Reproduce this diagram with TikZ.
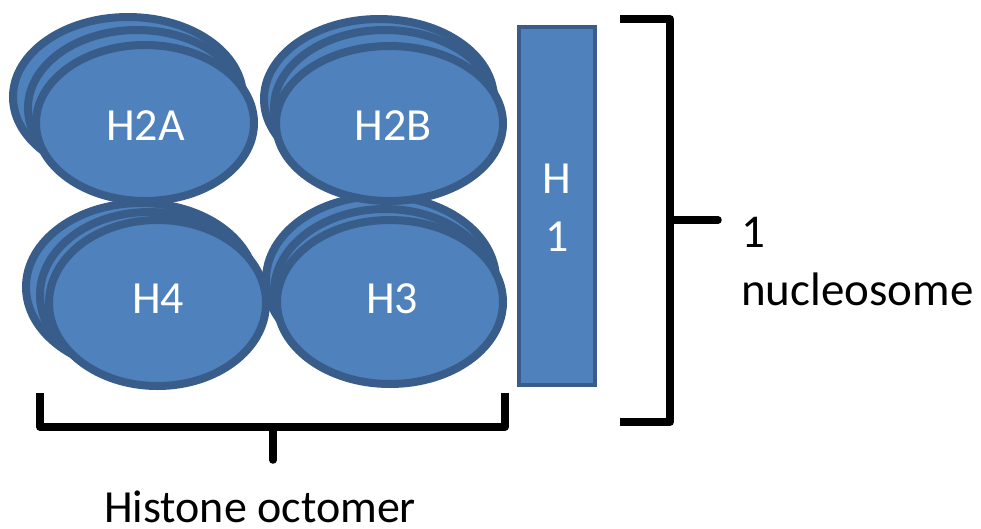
\documentclass[tikz,border=0pt]{standalone}
\usepackage{fontspec}
\setmainfont{Carlito}
\begin{document}
\begin{tikzpicture}[x=1pt,y=-1pt,
  blob/.style={fill=hfill,draw=hline,line width=8pt},
  lab/.style={text=white,anchor=base,inner sep=0pt,font=\fontsize{46}{55}\selectfont},
  blab/.style={text=black,anchor=base west,inner sep=0pt,font=\fontsize{47}{56}\selectfont},
  brk/.style={draw=black,line width=7.5pt,line join=round}]
\definecolor{hfill}{HTML}{4F81BD}
\definecolor{hline}{HTML}{385D8A}
\useasboundingbox (0,0) rectangle (981,528);
% H3 (bottom right)
\path[blob] (381,280) ellipse [x radius=115, y radius=84];
\path[blob] (385,292) ellipse [x radius=111, y radius=83];
\path[blob] (390,302) ellipse [x radius=113, y radius=82];
% H4 (bottom left)
\path[blob] (141,287) ellipse [x radius=115, y radius=84];
\path[blob] (149,295) ellipse [x radius=109, y radius=83];
\path[blob] (157.5,303) ellipse [x radius=108.5, y radius=83];
% H2B (top right)
\path[blob] (379,99) ellipse [x radius=115, y radius=80];
\path[blob] (385,108) ellipse [x radius=111, y radius=78];
\path[blob] (389.5,123.5) ellipse [x radius=113.5, y radius=77.5];
% H2A (top left)
\path[blob] (128,97) ellipse [x radius=115, y radius=80];
\path[blob] (137,108) ellipse [x radius=109, y radius=78];
\path[blob] (145,123) ellipse [x radius=109, y radius=78];
% labels
\node[lab] (h2a) at (145.5,140) {H2A};
\node[lab] (h2b) at (393,140) {H2B};
\node[lab] (h4) at (158,313) {H4};
\node[lab] (h3) at (392,313) {H3};
% H1
\node[fill=hfill,draw=hline,line width=3.5pt,minimum width=76pt,minimum height=358pt,inner sep=0pt] (h1) at (557,206) {};
\node[lab] (h1a) at (557,193) {H};
\node[lab] (h1b) at (557,251) {1};
% right bracket
\coordinate (rt) at (620,19);
\coordinate (rtc) at (670,19);
\coordinate (rbc) at (670,422);
\coordinate (rb) at (620,422);
\coordinate (rm) at (670,220);
\coordinate (rme) at (718,220);
\draw[brk] (rt) -- (rtc) -- (rbc) -- (rb);
\draw[brk,line cap=round] (rm) -- (rme);
\node[blab] (one) at (741,247) {1};
\node[blab] (nuc) at (741,305) {nucleosome};
% bottom bracket
\coordinate (bl) at (40,393);
\coordinate (blc) at (40,427);
\coordinate (brc) at (505,427);
\coordinate (br) at (505,393);
\coordinate (bm) at (273,427);
\coordinate (bme) at (273,460);
\draw[brk] (bl) -- (blc) -- (brc) -- (br);
\draw[brk,line cap=round] (bm) -- (bme);
\node[text=black,anchor=base,inner sep=0pt,font=\fontsize{46}{55}\selectfont] (oct) at (260,522) {Histone octomer};
\end{tikzpicture}
\end{document}
